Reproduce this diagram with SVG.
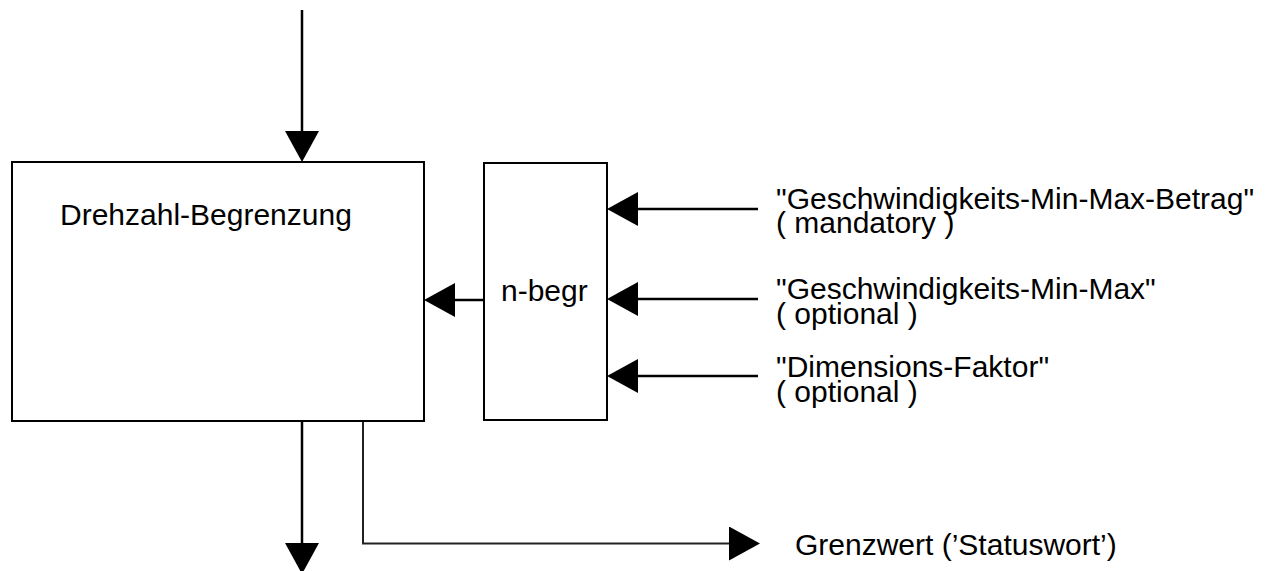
<svg xmlns="http://www.w3.org/2000/svg" width="1270" height="571" viewBox="0 0 1270 571">
  <style>
    .box { fill: #fff; stroke: #000; stroke-width: 2; }
    .wire { fill: none; stroke: #000; stroke-width: 2.5; }
    .thin { stroke-width: 2; stroke: #222; }
    text { font-family: "Liberation Sans", Arial, sans-serif; font-size: 30px; fill: #000; }
  </style>
  <defs>
    <!-- filled arrowhead; its base sits on the line end -->
    <marker id="head" viewBox="0 0 31 34" refX="0" refY="17" markerWidth="31" markerHeight="34" markerUnits="userSpaceOnUse" orient="auto">
      <path d="M0,0 L31,17 L0,34 Z" fill="#000"/>
    </marker>
  </defs>

  <g id="connectors">
    <!-- incoming from above -->
    <line class="wire" x1="302" y1="10" x2="302" y2="131" marker-end="url(#head)"/>
    <!-- n-begr into Drehzahl-Begrenzung -->
    <line class="wire" x1="484" y1="300" x2="455" y2="300" marker-end="url(#head)"/>
    <!-- parameter inputs -->
    <line class="wire" x1="758" y1="209" x2="638" y2="209" marker-end="url(#head)"/>
    <line class="wire" x1="758" y1="299" x2="638" y2="299" marker-end="url(#head)"/>
    <line class="wire" x1="758" y1="376" x2="638" y2="376" marker-end="url(#head)"/>
    <!-- output downwards -->
    <line class="wire" x1="302" y1="421" x2="302" y2="543" marker-end="url(#head)"/>
    <!-- limit status output -->
    <path class="wire thin" d="M363,421 V543.5 H729" marker-end="url(#head)"/>
  </g>

  <g id="drehzahl-begrenzung">
    <rect class="box" x="12" y="162" width="412" height="259"/>
    <text x="60" y="225">Drehzahl-Begrenzung</text>
  </g>

  <g id="n-begr">
    <rect class="box" x="484" y="163" width="123" height="257"/>
    <text x="501" y="301">n-begr</text>
  </g>

  <g id="label-betrag">
    <text x="776" y="209">"Geschwindigkeits-Min-Max-Betrag"</text>
    <text x="776" y="233">( mandatory )</text>
  </g>

  <g id="label-min-max">
    <text x="776" y="299">"Geschwindigkeits-Min-Max"</text>
    <text x="776" y="324">( optional )</text>
  </g>

  <g id="label-faktor">
    <text x="776" y="377">"Dimensions-Faktor"</text>
    <text x="776" y="402">( optional )</text>
  </g>

  <g id="label-grenzwert">
    <text x="795" y="555">Grenzwert (’Statuswort’)</text>
  </g>
</svg>
